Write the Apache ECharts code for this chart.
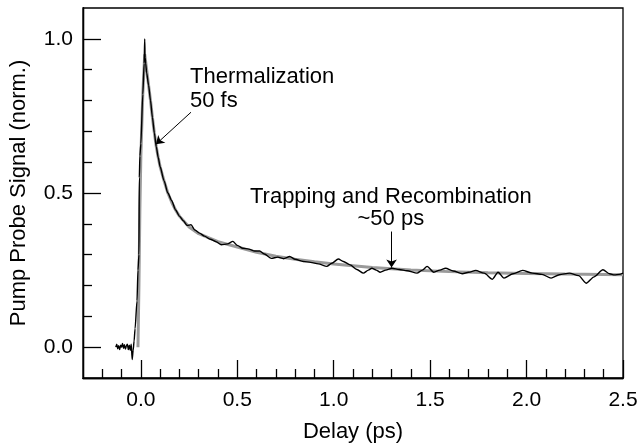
<!DOCTYPE html>
<html><head><meta charset="utf-8">
<script src="https://cdn.jsdelivr.net/npm/echarts@6/dist/echarts.min.js"></script>
<style>html,body{margin:0;padding:0;background:#fff}#c{width:640px;height:445px}</style>
</head><body><div id="c"></div>
<script>
// Measured pump-probe trace [delay ps, signal]
const measured = [
[-0.13,0.0],[-0.125,0.01],[-0.12,-0.005],[-0.115,0.005],[-0.11,-0.008],[-0.105,0.006],[-0.1,0.0],[-0.095,0.012],[-0.09,-0.004],[-0.085,0.008],[-0.08,-0.006],[-0.075,0.004],[-0.07,0.01],[-0.065,-0.008],[-0.06,0.006],[-0.055,-0.01],[-0.05,0.01],[-0.045,-0.04],[-0.04,-0.01],[-0.035,0.02],[-0.03,0.06],[-0.02,0.15],[-0.015,0.25],[-0.01,0.3],[-0.008,0.55],[-0.005,0.62],[0.0,0.66],[0.01,0.82],[0.017,0.92],[0.02,1.0],[0.022,0.94],[0.025,0.92],[0.03,0.89],[0.04,0.85],[0.05,0.80],[0.06,0.745],[0.07,0.695],[0.08,0.65],[0.09,0.615],[0.1,0.585],[0.12,0.54],[0.14,0.50],[0.16,0.475],[0.18,0.445],[0.2,0.425],[0.22,0.41],[0.24,0.395],[0.26,0.397],[0.28,0.38],[0.304,0.370],[0.33,0.36],[0.36,0.35],[0.39,0.342],[0.417,0.332],[0.45,0.335],[0.477,0.343],[0.5,0.33],[0.529,0.321],[0.56,0.318],[0.59,0.312],[0.616,0.312],[0.64,0.302],[0.677,0.288],[0.71,0.292],[0.74,0.287],[0.772,0.294],[0.8,0.285],[0.842,0.278],[0.88,0.275],[0.92,0.27],[0.964,0.262],[0.99,0.272],[1.024,0.286],[1.05,0.278],[1.085,0.267],[1.12,0.252],[1.154,0.240],[1.18,0.25],[1.198,0.256],[1.22,0.25],[1.241,0.243],[1.27,0.25],[1.302,0.256],[1.34,0.252],[1.38,0.248],[1.432,0.240],[1.46,0.25],[1.484,0.262],[1.519,0.243],[1.55,0.25],[1.58,0.256],[1.62,0.247],[1.667,0.238],[1.7,0.243],[1.736,0.249],[1.78,0.24],[1.823,0.2205],[1.852,0.243],[1.883,0.224],[1.93,0.238],[1.979,0.249],[2.03,0.24],[2.08,0.236],[2.127,0.224],[2.17,0.235],[2.222,0.240],[2.27,0.232],[2.309,0.2075],[2.35,0.228],[2.396,0.251],[2.43,0.238],[2.456,0.2345],[2.48,0.236],[2.5,0.240]
];
// Fitted curve [delay ps, signal]
const fit = [
[-0.015,0.0],[-0.01,0.2],[-0.005,0.45],[0.0,0.62],[0.01,0.82],[0.02,0.95],[0.03,0.9],[0.04,0.85],[0.05,0.8],[0.06,0.745],[0.07,0.695],[0.08,0.65],[0.09,0.615],[0.1,0.585],[0.12,0.54],[0.14,0.5],[0.16,0.47],[0.18,0.445],[0.2,0.425],[0.25,0.39],[0.3,0.368],[0.4,0.342],[0.5,0.325],[0.6,0.308],[0.7,0.295],[0.8,0.285],[0.9,0.277],[1.0,0.27],[1.2,0.258],[1.4,0.25],[1.6,0.245],[1.8,0.241],[2.0,0.239],[2.2,0.237],[2.4,0.236],[2.5,0.235]
];
const xMajor = [0, 0.5, 1.0, 1.5, 2.0, 2.5];
const xMinor = [-0.2,-0.1,0.1,0.2,0.3,0.4,0.6,0.7,0.8,0.9,1.1,1.2,1.3,1.4,1.6,1.7,1.8,1.9,2.1,2.2,2.3,2.4];
const yMajor = [0, 0.5, 1.0];
const yMinor = [0.1,0.2,0.3,0.4,0.6,0.7,0.8,0.9];
const annotations = [
  {text:'Thermalization\n50 fs', at:[0.255,0.836], align:'left', lh:24},
  {text:'Trapping and Recombination\n~50 ps', at:[1.296,0.45], align:'center', lh:22}
];
const arrows = [
  [[0.26,0.762],[0.078,0.658]],
  [[1.3,0.375],[1.3,0.258]]
];

const FONT = 'Liberation Sans';
const FS = 21;
const FT = 22;
const chart = echarts.init(document.getElementById('c'), null, {renderer:'canvas'});
const baseAxis = (extra) => Object.assign({
  type:'value', splitLine:{show:false},
  axisLine:{show:true, onZero:false, lineStyle:{color:'#000', width:1.3}}
}, extra);
chart.setOption({
  animation:false,
  backgroundColor:'#fff',
  grid:{left:83, right:17, top:8, bottom:67, containLabel:false, outerBoundsMode:'none',
        show:true, borderColor:'#000', borderWidth:1.3, backgroundColor:'transparent'},
  xAxis:[
    baseAxis({min:-0.3, max:2.5, name:'Delay (ps)', nameLocation:'middle', nameGap:43,
      nameTextStyle:{fontFamily:FONT, fontSize:FT, color:'#000'},
      axisTick:{show:true, inside:true, length:18, customValues:xMajor, lineStyle:{color:'#000', width:1.3}},
      axisLabel:{customValues:xMajor, margin:12, fontFamily:FONT, fontSize:FS, color:'#000', formatter:v=>v.toFixed(1)}}),
    baseAxis({min:-0.3, max:2.5, position:'bottom',
      axisTick:{show:true, inside:true, length:9, customValues:xMinor, lineStyle:{color:'#000', width:1.3}},
      axisLabel:{show:false}})
  ],
  yAxis:[
    baseAxis({min:-0.1, max:1.1, name:'Pump Probe Signal (norm.)', nameLocation:'middle', nameGap:53,
      nameTextStyle:{fontFamily:FONT, fontSize:FT, color:'#000'},
      axisTick:{show:true, inside:true, length:18, customValues:yMajor, lineStyle:{color:'#000', width:1.3}},
      axisLabel:{customValues:yMajor, margin:10, fontFamily:FONT, fontSize:FS, color:'#000', formatter:v=>v.toFixed(1)}}),
    baseAxis({min:-0.1, max:1.1, position:'left',
      axisTick:{show:true, inside:true, length:9, customValues:yMinor, lineStyle:{color:'#000', width:1.3}},
      axisLabel:{show:false}})
  ],
  series:[
    {type:'line', data:fit, showSymbol:false, symbol:'none', lineStyle:{color:'#9a9a9a', width:3}, z:2,
     markLine:{silent:true, symbol:['none','arrow'], symbolSize:8, label:{show:false},
       lineStyle:{color:'#000', width:1, type:'solid'},
       data: arrows.map(a=>[{coord:a[0]},{coord:a[1]}])}},
    {type:'line', data:measured, showSymbol:false, symbol:'none', smooth:0.25, smoothMonotone:'x',
     lineStyle:{color:'#000', width:1.4}, z:3},
    {type:'scatter', data: annotations.map(a=>({value:a.at, label:{align:a.align, lineHeight:a.lh}})), symbolSize:0, z:4,
     itemStyle:{opacity:1}, silent:true,
     label:{show:true, position:'inside', verticalAlign:'middle', fontFamily:FONT, fontSize:FT, color:'#000', opacity:1,
       formatter:p=>annotations[p.dataIndex].text}}
  ]
});
</script></body></html>
